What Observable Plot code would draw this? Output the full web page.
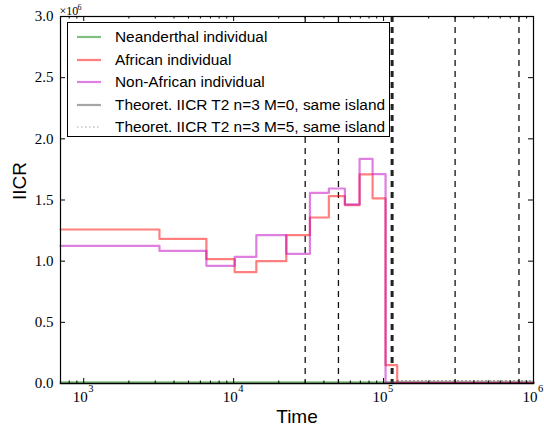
<!DOCTYPE html>
<html>
<head>
<meta charset="utf-8">
<script src="https://cdn.jsdelivr.net/npm/d3@7"></script>
<script src="https://cdn.jsdelivr.net/npm/@observablehq/plot@0.6"></script>
<style>
  html, body { margin: 0; padding: 0; background: #fff; }
  #figure { position: relative; width: 544px; height: 430px; }
  #legend {
    position: absolute; left: 67px; top: 22px; width: 323px; height: 115px;
    box-sizing: border-box; border: 1px solid #000; background: #fff;
    font-family: "Liberation Sans", Arial, sans-serif; font-size: 15.4px; color: #000;
    padding-top: 3px;
  }
  #legend .row { display: flex; align-items: center; height: 22.5px; white-space: nowrap; }
  #legend svg { margin-left: 9px; margin-right: 14px; flex: none; }
</style>
</head>
<body>
<div id="figure"></div>
<script>
// Step-wise IICR curves (time in generations, IICR in units of 1e6)
const africanTime = [700, 3200, 6580, 10160, 14170, 22450, 32270, 43150, 55200, 69180, 84500, 103100, 123300, 1e6];
const africanIICR = [1.259e6, 1.182e6, 1.016e6, 0.910e6, 1.000e6, 1.213e6, 1.357e6, 1.531e6, 1.458e6, 1.709e6, 1.513e6, 0.150e6, 0.006e6, 0.006e6];

const nonAfricanTime = [700, 3200, 6580, 10160, 14170, 22450, 32270, 43150, 55200, 69180, 84500, 103100, 1e6];
const nonAfricanIICR = [1.125e6, 1.084e6, 0.962e6, 1.035e6, 1.213e6, 1.060e6, 1.558e6, 1.594e6, 1.464e6, 1.836e6, 1.711e6, 0.006e6, 0.006e6];

const neanderthalTime = [700, 1e4, 1e5, 1e6];
const neanderthalIICR = [0.010e6, 0.010e6, 0.010e6, 0.010e6];

const theoM0Time = [700, 1e6];
const theoM0IICR = [0, 0];

const theoM5Time = [123300, 1e6];
const theoM5IICR = [0.024e6, 0.024e6];

// Vertical reference times
const eventTimes = [3e4, 5e4, 1.14e5, 3e5, 8e5];
const boldEventTime = 1.14e5;

// Axis ticks
const xMajorTicks = [1e3, 1e4, 1e5, 1e6];
const xMinorTicks = [800, 900,
  2e3, 3e3, 4e3, 5e3, 6e3, 7e3, 8e3, 9e3,
  2e4, 3e4, 4e4, 5e4, 6e4, 7e4, 8e4, 9e4,
  2e5, 3e5, 4e5, 5e5, 6e5, 7e5, 8e5, 9e5];
const yTicks = [0, 0.5e6, 1.0e6, 1.5e6, 2.0e6, 2.5e6, 3.0e6];

const legendItems = [
  {label: "Neanderthal individual", color: "#008000", opacity: 0.5, dash: null},
  {label: "African individual", color: "#ff0000", opacity: 0.5, dash: null},
  {label: "Non-African individual", color: "#bf00bf", opacity: 0.5, dash: null},
  {label: "Theoret. IICR T2 n=3 M=0, same island", color: "#000000", opacity: 0.35, dash: null},
  {label: "Theoret. IICR T2 n=3 M=5, same island", color: "#000000", opacity: 0.35, dash: "1.5,2.5"}
];

const series = (t, v) => t.map((x, i) => ({t: x, v: v[i]}));

const W = 544, H = 430;
const mTop = 16, mRight = 11, mBottom = 47, mLeft = 60;
const plotW = W - mLeft - mRight, plotH = H - mTop - mBottom;
const serif = "'Liberation Serif', 'DejaVu Serif', serif";
const sans = "'Liberation Sans', Arial, sans-serif";

const stepLine = (data, color, opacity, extra = {}) =>
  Plot.line(data, {x: "t", y: "v", curve: "step-after", stroke: color, strokeOpacity: opacity, strokeWidth: 2.2, ...extra});

const label = (data, opts) => Plot.text(data, {lineAnchor: "middle", fill: "#000", ...opts});

const chart = Plot.plot({
  width: W, height: H,
  marginTop: mTop, marginRight: mRight, marginBottom: mBottom, marginLeft: mLeft,
  style: {fontFamily: serif, fontSize: "14px", background: "#fff", overflow: "visible"},
  x: {type: "log", domain: [700, 1e6], axis: null},
  y: {domain: [0, 3e6], axis: null},
  marks: [
    // vertical event lines
    Plot.ruleX(eventTimes, {
      x: d => d, stroke: d => d === boldEventTime ? "#222" : "#111",
      strokeWidth: d => d === boldEventTime ? 3 : 1.3, strokeDasharray: "6,5"
    }),
    // IICR curves
    stepLine(series(neanderthalTime, neanderthalIICR), "#008000", 0.5),
    stepLine(series(africanTime, africanIICR), "#ff0000", 0.5),
    stepLine(series(nonAfricanTime, nonAfricanIICR), "#bf00bf", 0.5),
    stepLine(series(theoM0Time, theoM0IICR), "#000", 0.35),
    stepLine(series(theoM5Time, theoM5IICR), "#000", 0.35, {strokeDasharray: "1.5,2.5", strokeWidth: 1.2}),
    // frame
    Plot.frame({stroke: "#000", strokeWidth: 1.2}),
    // inward ticks, bottom and top
    Plot.tickX(xMajorTicks, {x: d => d, insetTop: plotH - 5, stroke: "#000"}),
    Plot.tickX(xMajorTicks, {x: d => d, insetBottom: plotH - 5, stroke: "#000"}),
    Plot.tickX(xMinorTicks, {x: d => d, insetTop: plotH - 2.5, stroke: "#000"}),
    Plot.tickX(xMinorTicks, {x: d => d, insetBottom: plotH - 2.5, stroke: "#000"}),
    // inward ticks, left and right
    Plot.tickY(yTicks, {y: d => d, insetRight: plotW - 5, stroke: "#000"}),
    Plot.tickY(yTicks, {y: d => d, insetLeft: plotW - 5, stroke: "#000"}),
    // x tick labels as 10^k
    label(xMajorTicks, {x: d => d, frameAnchor: "bottom", text: () => "10", textAnchor: "end", dx: 4, dy: 14, fontSize: 15}),
    label(xMajorTicks, {x: d => d, frameAnchor: "bottom", text: d => String(Math.round(Math.log10(d))), textAnchor: "start", dx: 4.5, dy: 5, fontSize: 10.5}),
    // y tick labels
    label(yTicks, {y: d => d, frameAnchor: "left", text: d => (d / 1e6).toFixed(1), textAnchor: "end", dx: -7, fontSize: 15}),
    // offset multiplier
    label(["×10"], {frameAnchor: "top-left", text: d => d, textAnchor: "start", dx: -1, dy: -5, fontSize: 12}),
    label(["6"], {frameAnchor: "top-left", text: d => d, textAnchor: "start", dx: 17, dy: -9, fontSize: 8}),
    // axis titles
    label(["IICR"], {frameAnchor: "left", text: d => d, rotate: -90, dx: -41, fontFamily: sans, fontSize: 19}),
    label(["Time"], {frameAnchor: "bottom", text: d => d, dy: 33, fontFamily: sans, fontSize: 19})
  ]
});

const fig = document.getElementById("figure");
fig.appendChild(chart);

// legend box over the upper-left part of the plot
const legend = document.createElement("div");
legend.id = "legend";
for (const item of legendItems) {
  const row = document.createElement("div");
  row.className = "row";
  const ns = "http://www.w3.org/2000/svg";
  const s = document.createElementNS(ns, "svg");
  s.setAttribute("width", 24); s.setAttribute("height", 10);
  const l = document.createElementNS(ns, "line");
  l.setAttribute("x1", 0); l.setAttribute("x2", 24);
  l.setAttribute("y1", 5); l.setAttribute("y2", 5);
  l.setAttribute("stroke", item.color);
  l.setAttribute("stroke-opacity", item.opacity);
  l.setAttribute("stroke-width", item.dash ? 1.2 : 2.2);
  if (item.dash) l.setAttribute("stroke-dasharray", item.dash);
  s.appendChild(l);
  const span = document.createElement("span");
  span.textContent = item.label;
  row.appendChild(s); row.appendChild(span);
  legend.appendChild(row);
}
fig.appendChild(legend);
</script>
</body>
</html>
